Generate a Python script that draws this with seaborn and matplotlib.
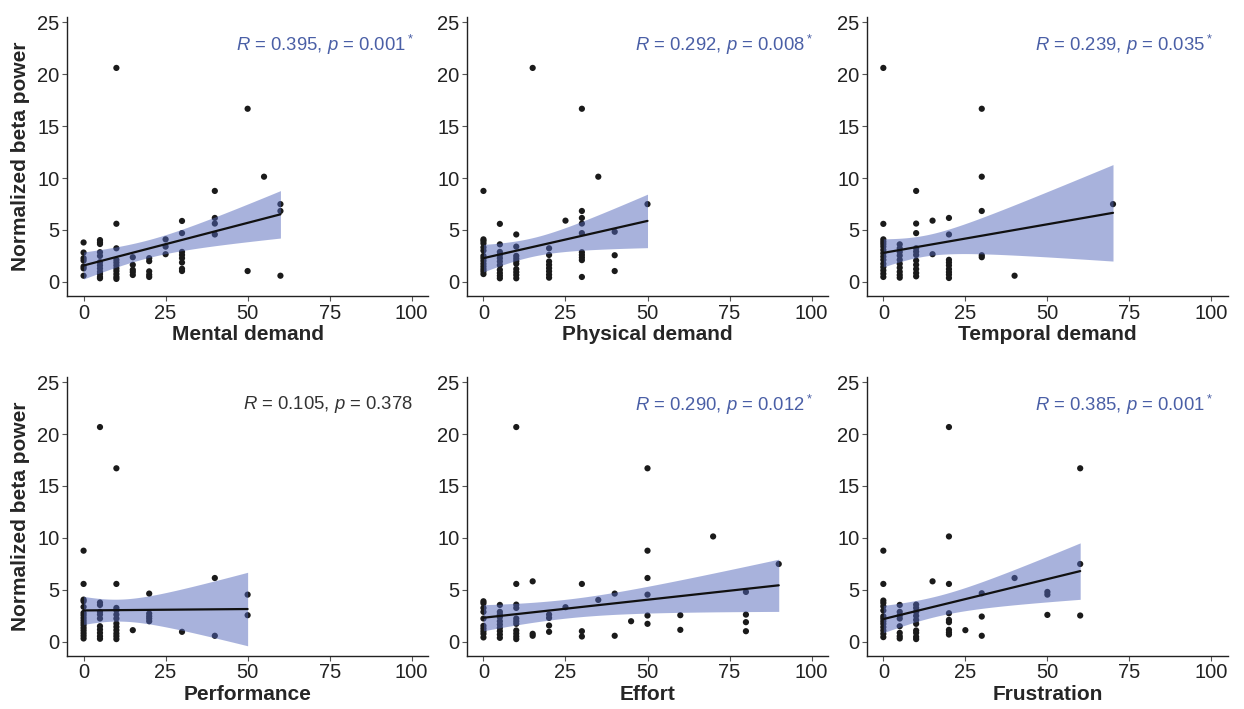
import matplotlib
matplotlib.use("Agg")
import matplotlib.pyplot as plt
import seaborn as sns
import numpy as np
import pandas as pd

# ---- data (x = NASA-TLX score, y = normalized beta power) ----
mental_x = [0, 0, 0, 0, 0, 0, 0,
            5, 5, 5, 5, 5, 5, 5, 5, 5, 5, 5, 5,
            10, 10, 10, 10, 10, 10, 10, 10, 10, 10, 10,
            15, 15, 15, 15, 15,
            20, 20, 20, 20, 20,
            25, 25, 25,
            30, 30, 30, 30, 30, 30, 30, 30,
            40, 40, 40, 40,
            50, 50, 55, 60, 60, 60]
mental_y = [3.8, 2.83, 2.29, 2.06, 1.49, 1.3, 0.6,
            4.03, 3.81, 3.65, 2.86, 2.51, 1.9, 1.59, 1.3, 0.98, 0.76, 0.48, 0.35,
            20.6, 5.6, 3.24, 2.13, 1.87, 1.59, 1.3, 1.05, 0.76, 0.48, 0.29,
            2.38, 1.65, 1.17, 0.95, 0.67,
            2.29, 2.0, 1.02, 0.7, 0.48,
            4.1, 3.4, 2.67,
            5.87, 4.7, 2.89, 2.6, 2.29, 1.87, 1.27, 1.05,
            8.76, 6.16, 5.62, 4.57,
            16.67, 1.05, 10.13, 7.49, 6.83, 0.6]

physical_x = [0, 0, 0, 0, 0, 0, 0, 0, 0, 0, 0, 0, 0, 0,
              5, 5, 5, 5, 5, 5, 5, 5, 5, 5, 5,
              10, 10, 10, 10, 10, 10, 10, 10, 10, 10,
              15,
              20, 20, 20, 20, 20, 20, 20, 20,
              25,
              30, 30, 30, 30, 30, 30, 30, 30, 30, 30,
              35, 40, 40, 40, 50]
physical_y = [8.76, 4.1, 3.94, 3.71, 3.33, 3.02, 2.51, 2.29, 2.03, 1.75, 1.49, 1.24, 1.02, 0.76,
              5.59, 3.62, 2.89, 2.6, 2.29, 1.97, 1.62, 1.17, 0.86, 0.6, 0.35,
              4.57, 3.4, 2.51, 2.25, 2.0, 1.75, 1.24, 0.95, 0.67, 0.35,
              20.6,
              3.24, 2.6, 1.97, 1.65, 1.33, 1.02, 0.7, 0.41,
              5.9,
              16.67, 6.83, 6.16, 5.62, 4.7, 2.86, 2.6, 2.35, 2.1, 0.48,
              10.13, 4.83, 2.57, 1.05, 7.49]

temporal_x = [0, 0, 0, 0, 0, 0, 0, 0, 0, 0, 0, 0, 0, 0, 0,
              5, 5, 5, 5, 5, 5, 5, 5, 5, 5,
              10, 10, 10, 10, 10, 10, 10, 10, 10, 10, 10,
              15, 15,
              20, 20, 20, 20, 20, 20, 20, 20, 20,
              30, 30, 30, 30, 30,
              40, 70]
temporal_y = [20.6, 5.59, 4.1, 3.87, 3.65, 3.4, 3.08, 2.76, 2.44, 2.13, 1.75, 1.43, 1.11, 0.79, 0.48,
              3.62, 3.24, 2.89, 2.54, 2.13, 1.75, 1.37, 0.98, 0.67, 0.41,
              8.76, 5.62, 4.7, 3.24, 2.92, 2.6, 2.06, 1.65, 1.24, 0.86, 0.54,
              5.9, 2.67,
              6.16, 4.57, 2.13, 1.87, 1.59, 1.24, 0.95, 0.7, 0.38,
              16.67, 10.13, 6.83, 2.57, 2.38,
              0.6, 7.49]

performance_x = [0, 0, 0, 0, 0, 0, 0, 0, 0, 0, 0, 0, 0, 0, 0, 0,
                 5, 5, 5, 5, 5, 5, 5, 5, 5, 5, 5,
                 10, 10, 10, 10, 10, 10, 10, 10, 10, 10, 10, 10,
                 15,
                 20, 20, 20, 20, 20,
                 30, 40, 40, 50, 50]
performance_y = [8.77, 5.57, 4.06, 3.9, 3.36, 2.78, 2.56, 2.3, 2.05, 1.82, 1.6, 1.34, 1.09, 0.83, 0.58, 0.32,
                 20.67, 3.78, 3.55, 2.88, 2.62, 2.24, 1.5, 1.18, 0.86, 0.54, 0.29,
                 16.7, 5.57, 3.26, 3.04, 2.62, 2.24, 1.76, 1.44, 1.12, 0.8, 0.54, 0.26,
                 1.12,
                 4.64, 2.72, 2.46, 2.24, 1.98,
                 0.96, 6.14, 0.58, 4.54, 2.56]

effort_x = [0, 0, 0, 0, 0, 0, 0, 0, 0, 0,
            5, 5, 5, 5, 5, 5, 5, 5, 5, 5,
            10, 10, 10, 10, 10, 10, 10, 10, 10, 10, 10,
            15, 15, 15,
            20, 20, 20, 20,
            25, 30, 30, 30, 35, 40, 40, 45,
            50, 50, 50, 50, 50, 50,
            60, 60, 70,
            80, 80, 80, 80, 90]
effort_y = [3.9, 3.71, 3.26, 2.88, 2.24, 1.54, 1.28, 1.02, 0.77, 0.42,
            3.55, 2.88, 2.62, 2.37, 1.98, 1.66, 1.34, 1.02, 0.7, 0.38,
            20.67, 5.57, 3.58, 3.26, 2.24, 1.98, 1.73, 1.09, 0.8, 0.51, 0.26,
            5.82, 0.77, 0.58,
            2.62, 2.3, 1.57, 0.96,
            3.33, 5.57, 1.02, 0.51, 4.03, 4.64, 0.58, 1.98,
            16.7, 8.77, 6.14, 4.54, 2.53, 1.73,
            2.56, 1.15, 10.14,
            4.8, 2.62, 1.89, 1.02, 7.49]

frustration_x = [0, 0, 0, 0, 0, 0, 0, 0, 0, 0, 0, 0, 0, 0,
                 5, 5, 5, 5, 5, 5, 5, 5,
                 10, 10, 10, 10, 10, 10, 10, 10, 10, 10,
                 15,
                 20, 20, 20, 20, 20, 20, 20, 20, 20,
                 25, 30, 30, 30, 40,
                 50, 50, 50, 60, 60, 60]
frustration_y = [8.77, 5.57, 3.97, 3.74, 3.42, 3.01, 2.46, 2.24, 1.98, 1.73, 1.41, 1.09, 0.77, 0.45,
                 3.55, 2.88, 2.53, 2.24, 1.5, 0.86, 0.54, 0.32,
                 3.58, 3.26, 2.88, 2.5, 2.11, 1.73, 1.09, 0.86, 0.48, 0.26,
                 5.82,
                 20.67, 10.14, 5.57, 2.75, 2.11, 1.89, 1.15, 0.9, 0.7,
                 1.12, 4.67, 2.43, 0.58, 6.14,
                 4.8, 4.54, 2.59, 16.7, 7.49, 2.53]

labels = ["Mental demand", "Physical demand", "Temporal demand",
          "Performance", "Effort", "Frustration"]
r_values = ["0.395", "0.292", "0.239", "0.105", "0.290", "0.385"]
p_values = ["0.001", "0.008", "0.035", "0.378", "0.012", "0.001"]
significant = [True, True, True, False, True, True]

xs = [mental_x, physical_x, temporal_x, performance_x, effort_x, frustration_x]
ys = [mental_y, physical_y, temporal_y, performance_y, effort_y, frustration_y]


def lm_band(x, y, grid):
    # analytic 95% confidence band of a linear fit (like ggplot's geom_smooth(method="lm"))
    x = np.asarray(x, float)
    y = np.asarray(y, float)
    n = len(x)
    b1, b0 = np.polyfit(x, y, 1)
    resid = y - (b0 + b1 * x)
    s = np.sqrt(np.sum(resid ** 2) / (n - 2))
    sxx = np.sum((x - x.mean()) ** 2)
    try:
        from scipy import stats
        t = stats.t.ppf(0.975, n - 2)
    except ImportError:
        t = 2.0
    se = s * np.sqrt(1.0 / n + (grid - x.mean()) ** 2 / sxx)
    fit = b0 + b1 * grid
    return fit - t * se, fit + t * se


sns.set_style("white")
plt.rcParams['font.family'] = ['Liberation Sans', 'DejaVu Sans']
plt.rcParams['mathtext.fontset'] = 'custom'
plt.rcParams['mathtext.rm'] = 'Liberation Sans'
plt.rcParams['mathtext.it'] = 'Liberation Sans:italic'
plt.rcParams['axes.unicode_minus'] = False

fig, axes = plt.subplots(2, 3, figsize=(12.44, 7.09), dpi=100)
plt.subplots_adjust(left=0.054, right=0.987, top=0.976, bottom=0.075,
                    wspace=0.108, hspace=0.29)

band_color = "#5367bb"
blue_text = "#4a5fa6"

for i, ax in enumerate(axes.flat):
    df = pd.DataFrame({"x": xs[i], "y": ys[i]})
    sns.scatterplot(data=df, x="x", y="y", ax=ax, color="#1a1a1a", s=20,
                    edgecolor="none", zorder=2)
    grid = np.linspace(df.x.min(), df.x.max(), 100)
    lo, hi = lm_band(df.x, df.y, grid)
    ax.fill_between(grid, lo, hi, color=band_color, alpha=0.5, lw=0, zorder=3)
    sns.regplot(data=df, x="x", y="y", ax=ax, scatter=False, ci=None,
                color="#111111", line_kws={"linewidth": 1.6, "zorder": 4})

    ax.set_xlim(-5, 105)
    ax.set_ylim(-1.35, 25.5)
    ax.set_xticks([0, 25, 50, 75, 100])
    ax.set_yticks([0, 5, 10, 15, 20, 25])
    ax.tick_params(axis="both", labelsize=14.5, length=3.5, width=0.8,
                   color="#555555", labelcolor="#222222", pad=2, direction="out",
                   bottom=True, left=True)
    for side in ["top", "right"]:
        ax.spines[side].set_visible(False)
    for side in ["left", "bottom"]:
        ax.spines[side].set_color("#222222")
        ax.spines[side].set_linewidth(1.0)

    ax.set_xlabel(labels[i], fontsize=15, fontweight="bold", labelpad=2)
    if i % 3 == 0:
        ax.set_ylabel("Normalized beta power", fontsize=15, fontweight="bold", labelpad=5)
    else:
        ax.set_ylabel("")

    star = "$^*$" if significant[i] else ""
    txt = "$\\it{R}$ = " + r_values[i] + ", $\\it{p}$ = " + p_values[i] + star
    ax.text(100.5, 22.8, txt, ha="right", va="center", fontsize=13.3,
            color=blue_text if significant[i] else "#333333")

plt.savefig("out.png", dpi=100)
